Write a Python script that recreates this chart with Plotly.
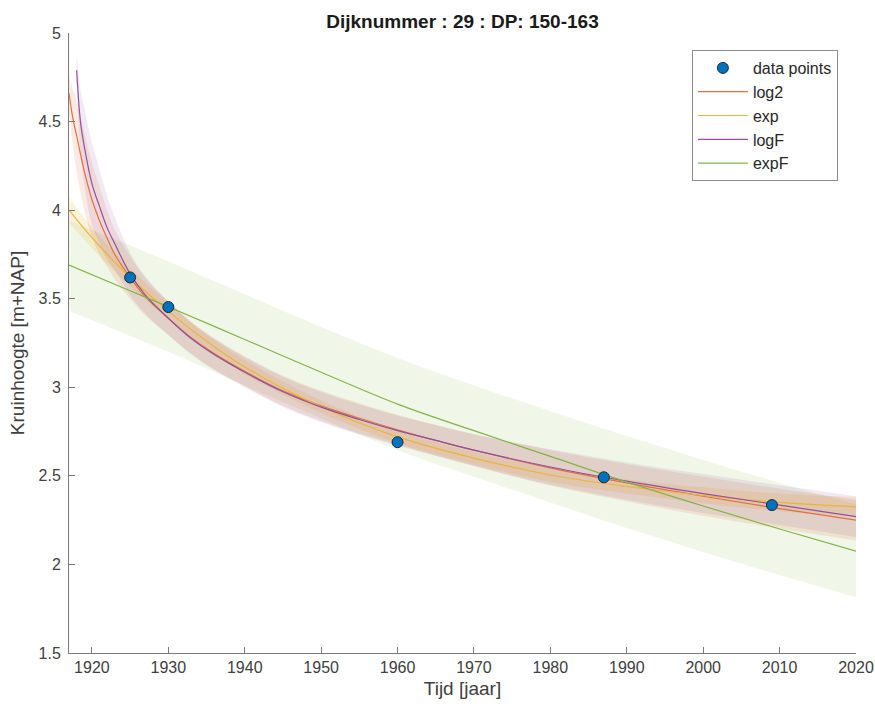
import plotly.graph_objects as go

# ---------------- data ----------------
data_years = [1925, 1930, 1960, 1987, 2009]
data_height = [3.62, 3.453, 2.69, 2.492, 2.335]

log2_years = [1917, 1917.5, 1918, 1919, 1920, 1921, 1922, 1923, 1925, 1927, 1930, 1933,
              1936, 1940, 1945, 1950, 1955, 1960, 1965, 1970, 1980, 1990, 2000, 2010, 2020]
log2_vals = [4.66, 4.52, 4.42, 4.22, 4.06, 3.94, 3.84, 3.75, 3.62, 3.51, 3.39, 3.28,
             3.19, 3.09, 2.98, 2.895, 2.825, 2.76, 2.70, 2.645, 2.545, 2.46, 2.385, 2.315, 2.25]
log2_ci = [0.10, 0.16, 0.20, 0.22, 0.21, 0.19, 0.16, 0.14, 0.12, 0.105, 0.095, 0.09,
           0.088, 0.085, 0.085, 0.085, 0.085, 0.085, 0.087, 0.09, 0.10, 0.105, 0.11, 0.112, 0.115]

logF_years = [1918, 1918.5, 1919, 1920, 1921, 1922, 1923, 1925, 1927, 1930, 1933,
              1936, 1940, 1945, 1950, 1955, 1960, 1965, 1970, 1980, 1990, 2000, 2010, 2020]
logF_vals = [4.79, 4.50, 4.36, 4.15, 4.02, 3.90, 3.81, 3.64, 3.52, 3.39, 3.275,
             3.185, 3.085, 2.975, 2.888, 2.818, 2.755, 2.70, 2.645, 2.55, 2.47, 2.40, 2.335, 2.27]
logF_ci = [0.10, 0.18, 0.22, 0.23, 0.21, 0.18, 0.15, 0.12, 0.105, 0.095, 0.09,
           0.088, 0.085, 0.085, 0.085, 0.085, 0.085, 0.087, 0.09, 0.10, 0.105, 0.11, 0.112, 0.115]

exp_years = [1917, 1920, 1925, 1930, 1935, 1940, 1950, 1960, 1970, 1980, 1990, 2000, 2010, 2020]
exp_vals = [4.00, 3.845, 3.62, 3.43, 3.26, 3.115, 2.89, 2.72, 2.60, 2.505, 2.44, 2.39, 2.35, 2.325]
exp_ci = [0.07, 0.06, 0.05, 0.045, 0.04, 0.04, 0.035, 0.035, 0.035, 0.04, 0.04, 0.045, 0.05, 0.055]

expF_years = [1917, 1925, 1930, 1940, 1950, 1960, 1970, 1980, 1990, 2000, 2010, 2020]
expF_vals = [3.69, 3.545, 3.455, 3.27, 3.085, 2.905, 2.755, 2.61, 2.465, 2.33, 2.20, 2.075]
expF_upper = [3.94, 3.80, 3.71, 3.525, 3.34, 3.165, 3.01, 2.865, 2.725, 2.59, 2.46, 2.34]
expF_lower = [3.43, 3.29, 3.20, 3.01, 2.825, 2.645, 2.495, 2.35, 2.205, 2.07, 1.94, 1.815]

y_ticks = [1.5, 2, 2.5, 3, 3.5, 4, 4.5, 5]
y_tick_text = ["1.5", "2", "2.5", "3", "3.5", "4", "4.5", "5"]
x_ticks = [1920, 1930, 1940, 1950, 1960, 1970, 1980, 1990, 2000, 2010, 2020]

# ---------------- styling ----------------
C_BLUE = "#0072BD"
C_ORANGE = "217,83,25"
C_YELLOW = "237,177,32"
C_PURPLE = "126,47,142"
C_GREEN = "119,172,48"
LINE_ORANGE = "#E2703F"
LINE_YELLOW = "#EBB43A"
LINE_PURPLE = "#9350A2"
LINE_GREEN = "#83B447"
FONT = "Liberation Sans, Arial, Helvetica, sans-serif"

fig = go.Figure()


def band(xs, lo, hi, rgb, alpha):
    fig.add_trace(go.Scatter(
        x=xs, y=lo, mode="lines",
        line=dict(width=0, shape="spline", smoothing=1.0, color="rgba(0,0,0,0)"),
        hoverinfo="skip", showlegend=False))
    fig.add_trace(go.Scatter(
        x=xs, y=hi, mode="lines", fill="tonexty", fillcolor=f"rgba({rgb},{alpha})",
        line=dict(width=0, shape="spline", smoothing=1.0, color="rgba(0,0,0,0)"),
        hoverinfo="skip", showlegend=False))


# confidence bands
band(expF_years, expF_lower, expF_upper, C_GREEN, 0.11)
band(exp_years, [v - c for v, c in zip(exp_vals, exp_ci)],
     [v + c for v, c in zip(exp_vals, exp_ci)], C_YELLOW, 0.16)
band(log2_years, [v - c for v, c in zip(log2_vals, log2_ci)],
     [v + c for v, c in zip(log2_vals, log2_ci)], C_ORANGE, 0.12)
band(logF_years, [v - c for v, c in zip(logF_vals, logF_ci)],
     [v + c for v, c in zip(logF_vals, logF_ci)], C_PURPLE, 0.10)


def curve(xs, ys, color, name, rank):
    fig.add_trace(go.Scatter(
        x=xs, y=ys, mode="lines", name=name, legendrank=rank,
        line=dict(color=color, width=1.2, shape="spline", smoothing=1.0)))


curve(log2_years, log2_vals, LINE_ORANGE, "log2", 2)
curve(exp_years, exp_vals, LINE_YELLOW, "exp", 3)
curve(logF_years, logF_vals, LINE_PURPLE, "logF", 4)
curve(expF_years, expF_vals, LINE_GREEN, "expF", 5)

fig.add_trace(go.Scatter(
    x=data_years, y=data_height, mode="markers", name="data points", legendrank=1,
    marker=dict(color=C_BLUE, size=11, line=dict(color="#1b2a3a", width=1))))

fig.update_layout(
    width=875, height=711,
    margin=dict(l=69, r=19, t=33, b=58),
    paper_bgcolor="white", plot_bgcolor="white",
    font=dict(family=FONT, color="#262626"),
    title=dict(text="<b>Dijknummer : 29 : DP: 150-163</b>",
               x=0.5, xref="paper", xanchor="center",
               y=1 - 21 / 711, yref="container", yanchor="middle",
               font=dict(size=19, color="#1a1a1a", family=FONT)),
    showlegend=True,
    legend=dict(x=0.977, xanchor="right", y=0.9726, yanchor="top",
                bgcolor="white", bordercolor="#8c8c8c", borderwidth=1,
                font=dict(size=16, color="#262626", family=FONT),
                traceorder="normal", itemwidth=50),
)

fig.update_xaxes(
    range=[1917, 2020], tickvals=x_ticks, ticks="inside", ticklen=6,
    tickcolor="#7a7a7a", showline=True, linecolor="#7a7a7a", linewidth=1,
    showgrid=False, zeroline=False, mirror=False, automargin=False,
    tickfont=dict(size=16, color="#404040"),
    title=dict(text="Tijd [jaar]", font=dict(size=19, color="#404040"), standoff=6))
fig.update_yaxes(
    range=[1.5, 5], tickvals=y_ticks, ticktext=y_tick_text, ticks="inside", ticklen=6,
    tickcolor="#7a7a7a", showline=True, linecolor="#7a7a7a", linewidth=1,
    showgrid=False, zeroline=False, mirror=False, automargin=False,
    tickfont=dict(size=16, color="#404040"), ticklabelstandoff=4,
    title=dict(text="Kruinhoogte [m+NAP]", font=dict(size=19, color="#404040"), standoff=8))

fig.write_html("out.html")
